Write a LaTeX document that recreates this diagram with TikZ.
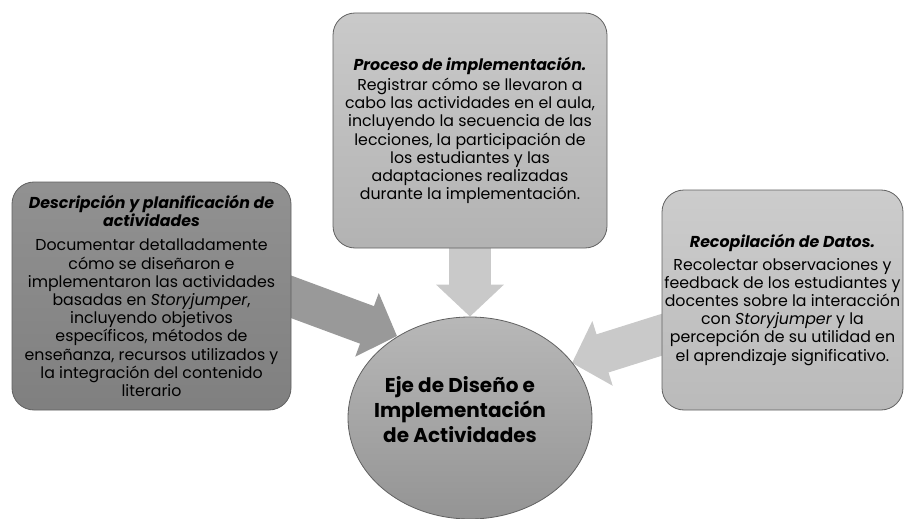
\documentclass[tikz,border=0pt]{standalone}
\usepackage{fontspec}
\setmainfont{Poppins}
\usepackage{tikz}
\usetikzlibrary{shapes.geometric,arrows.meta,calc,backgrounds}
\definecolor{boxline}{rgb}{0.38,0.38,0.38}
\definecolor{darkboxtop}{rgb}{0.57,0.57,0.57}
\definecolor{darkboxbot}{rgb}{0.50,0.50,0.50}
\definecolor{midboxtop}{rgb}{0.79,0.79,0.79}
\definecolor{midboxbot}{rgb}{0.70,0.70,0.70}
\definecolor{rboxtop}{rgb}{0.80,0.80,0.80}
\definecolor{rboxbot}{rgb}{0.73,0.73,0.73}
\definecolor{ejetop}{rgb}{0.72,0.72,0.72}
\definecolor{ejebot}{rgb}{0.58,0.58,0.58}
\definecolor{arrowdark}{rgb}{0.60,0.60,0.60}
\definecolor{arrowlight}{rgb}{0.79,0.79,0.79}

\begin{document}
\begin{tikzpicture}[x=1pt,y=-1pt,
		caja/.style={draw=boxline,line width=0.8pt,rounded corners=22pt,inner sep=0pt,
			align=center,font=\fontsize{15.8}{18.2}\selectfont},
		flecha/.style={line width=40pt,-{Triangle[length=32pt,width=66pt]}}]
	\useasboundingbox (0,0) rectangle (906,519);
	% las tres cajas
	\node[caja,minimum width=279pt,minimum height=228pt,top color=darkboxtop,bottom color=darkboxbot] (descripcion) at (151.5,296)
	{\textbf{\textit{Descripción y planificación de}}\\ \textbf{\textit{actividades}}\\[6pt]
		Documentar detalladamente\\ cómo se diseñaron e\\ implementaron las actividades\\
		basadas en \textit{Storyjumper},\\ incluyendo objetivos\\ específicos, métodos de\\
		enseñanza, recursos utilizados y\\ la integración del contenido\\ literario};
	\node[caja,minimum width=274pt,minimum height=235pt,top color=midboxtop,bottom color=midboxbot] (proceso) at (470,130.5)
	{\textbf{\textit{Proceso de implementación.}}\\[2pt]
		Registrar cómo se llevaron a\\ cabo las actividades en el aula,\\ incluyendo la secuencia de las\\
		lecciones, la participación de\\ los estudiantes y las\\ adaptaciones realizadas\\
		durante la implementación.};
	\node[caja,minimum width=241pt,minimum height=220pt,top color=rboxtop,bottom color=rboxbot] (datos) at (782.5,300)
	{\textbf{\textit{Recopilación de Datos.}}\\[4pt]
		Recolectar observaciones y\\ feedback de los estudiantes y\\ docentes sobre la interacción\\
		con \textit{Storyjumper} y la\\ percepción de su utilidad en\\ el aprendizaje significativo.};
	% el eje central
	\node[ellipse,draw=boxline,line width=0.8pt,minimum width=244pt,minimum height=202pt,inner sep=0pt,
		top color=ejetop,bottom color=ejebot] (eje) at (470,418) {};
	\node[align=center,font=\fontsize{20}{25}\selectfont\bfseries] (ejetexto) at ($(eje.center)+(-10,-8)$)
	{Eje de Diseño e\\ Implementación\\ de Actividades};
	\coordinate (izqpunta) at (397,336);
	\coordinate (derpunta) at (572,363);
	\begin{scope}[on background layer]
		\draw[flecha,arrowdark] ($(descripcion.east)+(-16,-5)$) -- (izqpunta);
		\draw[flecha,arrowlight,line width=42pt] ($(proceso.south)+(0,-6)$) -- (eje.north);
		\draw[flecha,arrowlight] ($(datos.west)+(28,26)$) -- (derpunta);
	\end{scope}
\end{tikzpicture}
\end{document}
